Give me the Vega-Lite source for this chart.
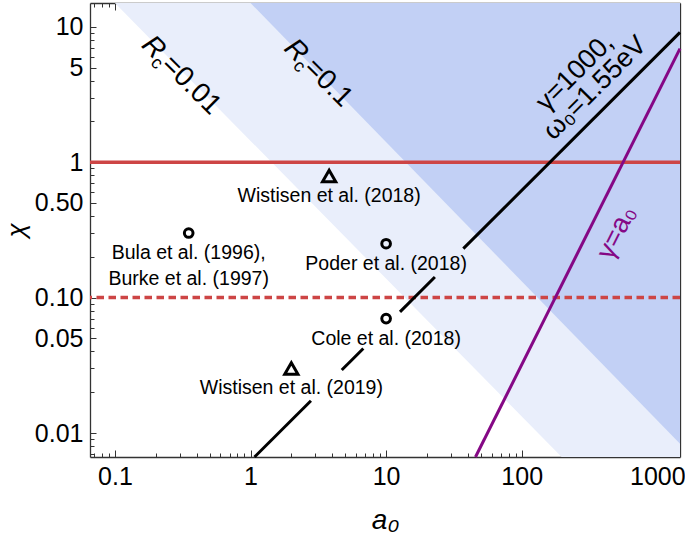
{
  "$schema": "https://vega.github.io/schema/vega-lite/v6.json",
  "width": 590,
  "height": 454,
  "autosize": {"type": "none"},
  "padding": {"left": 90, "top": 3, "right": 5, "bottom": 83},
  "background": "white",
  "config": {
    "view": {"stroke": null},
    "font": "Liberation Sans",
    "axis": {
      "grid": false,
      "domainColor": "#333333",
      "domainWidth": 1.3,
      "tickColor": "#333333",
      "tickWidth": 1,
      "labelColor": "black",
      "labelFont": "Liberation Sans",
      "labelFontSize": 25,
      "labelOverlap": false,
      "labelFlush": false,
      "zindex": 1,
      "titleColor": "black",
      "titleFont": "Liberation Sans",
      "titleFontWeight": "normal",
      "titleFontStyle": "italic",
      "titleFontSize": 28
    }
  },
  "datasets": {
    "regions": [
      {"region": "light", "a0": 0.1, "lo": 15, "hi": 15},
      {"region": "light", "a0": 197, "lo": 0.00665, "hi": 15},
      {"region": "light", "a0": 1470, "lo": 0.00665, "hi": 15},
      {"region": "dark", "a0": 1.0, "lo": 15, "hi": 15},
      {"region": "dark", "a0": 1470, "lo": 0.00834, "hi": 15}
    ],
    "guides": [
      {"chi": 1, "style": "solid"},
      {"chi": 0.1, "style": "dashed"}
    ],
    "lines": [
      {"line": "black", "seg": "A", "a0": 1.07, "chi": 0.00665},
      {"line": "black", "seg": "A", "a0": 2.79, "chi": 0.0173},
      {"line": "black", "seg": "B", "a0": 4.71, "chi": 0.0292},
      {"line": "black", "seg": "B", "a0": 6.79, "chi": 0.0421},
      {"line": "black", "seg": "C", "a0": 12.66, "chi": 0.0785},
      {"line": "black", "seg": "C", "a0": 22.9, "chi": 0.142},
      {"line": "black", "seg": "D", "a0": 37.1, "chi": 0.23},
      {"line": "black", "seg": "D", "a0": 1470, "chi": 9.11},
      {"line": "purple", "seg": "P", "a0": 45.6, "chi": 0.00665},
      {"line": "purple", "seg": "P", "a0": 1470, "chi": 6.91}
    ],
    "points": [
      {"a0": 0.35, "chi": 0.30, "kind": "circle", "label": "Bula et al. (1996),\nBurke et al. (1997)"},
      {"a0": 3.8, "chi": 0.79, "kind": "triangle", "label": "Wistisen et al. (2018)"},
      {"a0": 10, "chi": 0.25, "kind": "circle", "label": "Poder et al. (2018)"},
      {"a0": 10, "chi": 0.07, "kind": "circle", "label": "Cole et al. (2018)"},
      {"a0": 2.0, "chi": 0.030, "kind": "triangle", "label": "Wistisen et al. (2019)"}
    ],
    "rc": [
      {"a0": 0.1545, "chi": 7.2, "rest": "=0.01"},
      {"a0": 1.737, "chi": 6.81, "rest": "=0.1"}
    ],
    "rot": [
      {"a0": 247, "chi": 4.6, "t": "γ=1000,", "g": "black"},
      {"a0": 347, "chi": 3.53, "t": "ω₀=1.55eV", "g": "black"},
      {"a0": 502, "chi": 0.302, "t": "γ=a₀", "g": "purple"}
    ]
  },
  "layer": [
    {
      "data": {"name": "regions"},
      "transform": [{"filter": "datum.region == 'light'"}],
      "mark": {"type": "area", "color": "#e9eefb", "opacity": 1},
      "encoding": {
        "x": {
          "field": "a0", "type": "quantitative",
          "scale": {"type": "log", "domain": [0.0655, 1470], "nice": false},
          "axis": {
            "orient": "bottom",
            "values": [0.07,0.08,0.09,0.1,0.2,0.3,0.4,0.5,0.6,0.7,0.8,0.9,1,2,3,4,5,6,7,8,9,10,20,30,40,50,60,70,80,90,100,200,300,400,500,600,700,800,900,1000],
            "tickSize": {"condition": {"test": "indexof([0.1,1,10,100,1000], datum.value) >= 0", "value": -7}, "value": -4},
            "labelExpr": "datum.value == 0.1 ? '0.1' : datum.value == 1 ? '1' : datum.value == 10 ? '10' : datum.value == 100 ? '100' : datum.value == 1000 ? '1000' : ''",
            "labelPadding": 14,
            "title": "a₀",
            "titlePadding": 14
          }
        },
        "y": {
          "field": "lo", "type": "quantitative",
          "scale": {"type": "log", "domain": [0.00665, 15], "nice": false},
          "axis": {
            "orient": "left",
            "values": [0.007,0.008,0.009,0.01,0.02,0.03,0.04,0.05,0.06,0.07,0.08,0.09,0.1,0.2,0.3,0.4,0.5,0.6,0.7,0.8,0.9,1,2,3,4,5,6,7,8,9,10],
            "tickSize": {"condition": {"test": "indexof([0.01,0.05,0.1,0.5,1,5,10], datum.value) >= 0", "value": -6}, "value": -4},
            "labelExpr": "datum.value == 0.5 ? '0.50' : datum.value == 0.1 ? '0.10' : datum.value == 0.05 ? '0.05' : datum.value == 0.01 ? '0.01' : datum.value == 1 ? '1' : datum.value == 5 ? '5' : datum.value == 10 ? '10' : ''",
            "labelPadding": 13,
            "title": "χ",
            "titleFontSize": 26,
            "titlePadding": 5
          }
        },
        "y2": {"field": "hi"}
      }
    },
    {
      "data": {"name": "regions"},
      "transform": [{"filter": "datum.region == 'dark'"}],
      "mark": {"type": "area", "color": "#c2d0f5", "opacity": 1},
      "encoding": {
        "x": {
          "field": "a0", "type": "quantitative",
          "scale": {"type": "log", "domain": [0.0655, 1470], "nice": false},
          "axis": {
            "orient": "top",
            "values": [0.07,0.08,0.09,0.1,0.2,0.3,0.4,0.5,0.6,0.7,0.8,0.9,1,2,3,4,5,6,7,8,9,10,20,30,40,50,60,70,80,90,100,200,300,400,500,600,700,800,900,1000],
            "tickSize": {"condition": {"test": "indexof([0.1,1,10,100,1000], datum.value) >= 0", "value": -7}, "value": -4},
            "labels": false,
            "title": null
          }
        },
        "y": {
          "field": "lo", "type": "quantitative",
          "scale": {"type": "log", "domain": [0.00665, 15], "nice": false},
          "axis": {
            "orient": "right",
            "values": [0.007,0.008,0.009,0.01,0.02,0.03,0.04,0.05,0.06,0.07,0.08,0.09,0.1,0.2,0.3,0.4,0.5,0.6,0.7,0.8,0.9,1,2,3,4,5,6,7,8,9,10],
            "tickSize": {"condition": {"test": "indexof([0.01,0.05,0.1,0.5,1,5,10], datum.value) >= 0", "value": -6}, "value": -4},
            "labels": false,
            "title": null
          }
        },
        "y2": {"field": "hi"}
      }
    },
    {
      "data": {"name": "guides"},
      "mark": {"type": "rule", "color": "#cd4545", "strokeWidth": 3.5},
      "encoding": {
        "y": {"field": "chi", "type": "quantitative", "scale": {"type": "log", "domain": [0.00665, 15], "nice": false}, "axis": null},
        "strokeDash": {"field": "style", "type": "nominal", "scale": {"domain": ["solid", "dashed"], "range": [[1, 0], [7.5, 4.5]]}, "legend": null}
      }
    },
    {
      "data": {"name": "lines"},
      "mark": {"type": "line", "strokeWidth": 3},
      "encoding": {
        "x": {"field": "a0", "type": "quantitative", "scale": {"type": "log", "domain": [0.0655, 1470], "nice": false}, "axis": null},
        "y": {"field": "chi", "type": "quantitative", "scale": {"type": "log", "domain": [0.00665, 15], "nice": false}, "axis": null},
        "color": {"field": "line", "type": "nominal", "scale": {"domain": ["black", "purple"], "range": ["#000000", "#850885"]}, "legend": null},
        "detail": {"field": "seg"}
      }
    },
    {
      "data": {"name": "points"},
      "mark": {"type": "point", "filled": false, "strokeWidth": 3, "color": "black", "opacity": 1},
      "encoding": {
        "x": {"field": "a0", "type": "quantitative", "scale": {"type": "log", "domain": [0.0655, 1470], "nice": false}, "axis": null},
        "y": {"field": "chi", "type": "quantitative", "scale": {"type": "log", "domain": [0.00665, 15], "nice": false}, "axis": null},
        "shape": {"field": "kind", "type": "nominal", "scale": {"domain": ["circle", "triangle"], "range": ["circle", "triangle-up"]}, "legend": null},
        "size": {"field": "kind", "type": "nominal", "scale": {"domain": ["circle", "triangle"], "range": [75, 175]}, "legend": null}
      }
    },
    {
      "data": {"name": "points"},
      "mark": {"type": "text", "fontSize": 19.5, "baseline": "top", "align": "center", "dy": 11, "lineBreak": "\n", "lineHeight": 26, "color": "black"},
      "encoding": {
        "x": {"field": "a0", "type": "quantitative", "scale": {"type": "log", "domain": [0.0655, 1470], "nice": false}, "axis": null},
        "y": {"field": "chi", "type": "quantitative", "scale": {"type": "log", "domain": [0.00665, 15], "nice": false}, "axis": null},
        "text": {"field": "label"}
      }
    },
    {
      "data": {"name": "rc"},
      "mark": {"type": "text", "fontSize": 28, "fontStyle": "italic", "angle": 45, "align": "left", "baseline": "alphabetic", "color": "black"},
      "encoding": {
        "x": {"field": "a0", "type": "quantitative", "scale": {"type": "log", "domain": [0.0655, 1470], "nice": false}, "axis": null},
        "y": {"field": "chi", "type": "quantitative", "scale": {"type": "log", "domain": [0.00665, 15], "nice": false}, "axis": null},
        "text": {"value": "R"}
      }
    },
    {
      "data": {"name": "rc"},
      "mark": {"type": "text", "fontSize": 18, "angle": 45, "align": "left", "baseline": "alphabetic", "dx": 19, "dy": 6, "color": "black"},
      "encoding": {
        "x": {"field": "a0", "type": "quantitative", "scale": {"type": "log", "domain": [0.0655, 1470], "nice": false}, "axis": null},
        "y": {"field": "chi", "type": "quantitative", "scale": {"type": "log", "domain": [0.00665, 15], "nice": false}, "axis": null},
        "text": {"value": "c"}
      }
    },
    {
      "data": {"name": "rc"},
      "mark": {"type": "text", "fontSize": 28, "angle": 45, "align": "left", "baseline": "alphabetic", "dx": 28, "color": "black"},
      "encoding": {
        "x": {"field": "a0", "type": "quantitative", "scale": {"type": "log", "domain": [0.0655, 1470], "nice": false}, "axis": null},
        "y": {"field": "chi", "type": "quantitative", "scale": {"type": "log", "domain": [0.00665, 15], "nice": false}, "axis": null},
        "text": {"field": "rest"}
      }
    },
    {
      "data": {"name": "rot"},
      "transform": [{"filter": "datum.g == 'black'"}],
      "mark": {"type": "text", "fontSize": 27, "angle": -45, "align": "center", "baseline": "middle", "color": "black"},
      "encoding": {
        "x": {"field": "a0", "type": "quantitative", "scale": {"type": "log", "domain": [0.0655, 1470], "nice": false}, "axis": null},
        "y": {"field": "chi", "type": "quantitative", "scale": {"type": "log", "domain": [0.00665, 15], "nice": false}, "axis": null},
        "text": {"field": "t"}
      }
    },
    {
      "data": {"name": "rot"},
      "transform": [{"filter": "datum.g == 'purple'"}],
      "mark": {"type": "text", "fontSize": 27, "angle": -63.4, "align": "center", "baseline": "middle", "color": "#850885"},
      "encoding": {
        "x": {"field": "a0", "type": "quantitative", "scale": {"type": "log", "domain": [0.0655, 1470], "nice": false}, "axis": null},
        "y": {"field": "chi", "type": "quantitative", "scale": {"type": "log", "domain": [0.00665, 15], "nice": false}, "axis": null},
        "text": {"field": "t"}
      }
    }
  ],
  "resolve": {"axis": {"x": "independent", "y": "independent"}}
}
